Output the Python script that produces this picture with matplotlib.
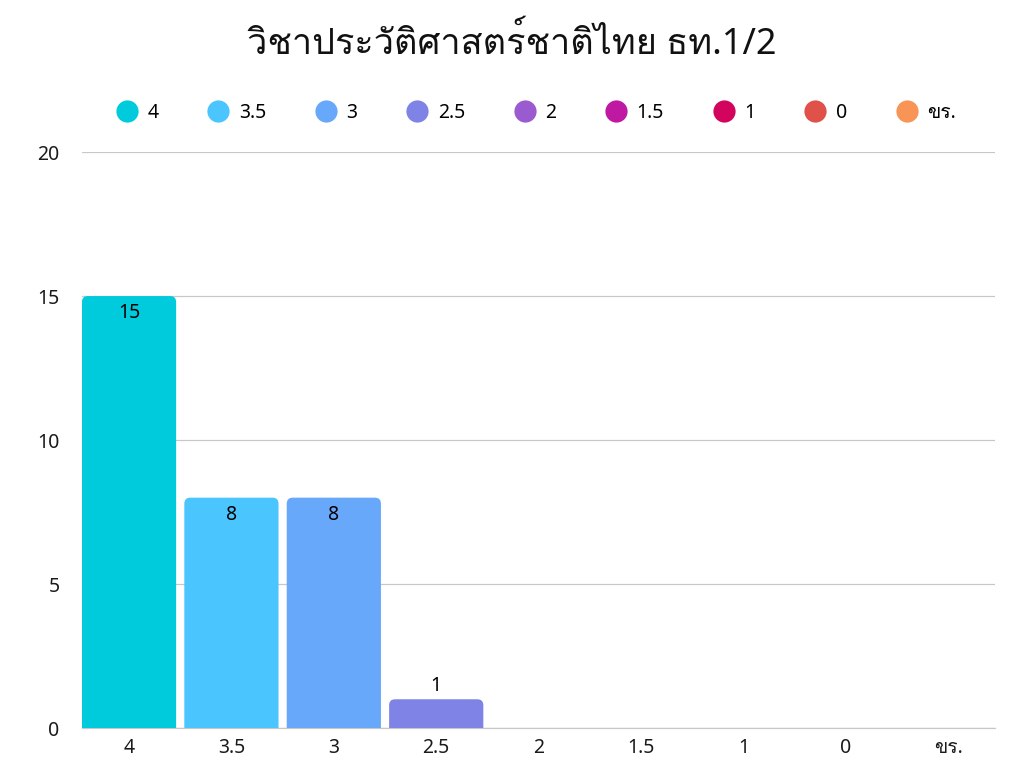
#!/usr/bin/env python3
"""Grade distribution bar chart for the Thai history class."""
from __future__ import annotations

import matplotlib
matplotlib.use("Agg")
import matplotlib.pyplot as plt
from matplotlib import font_manager
from matplotlib.ft2font import FT2Font
from matplotlib.lines import Line2D
from matplotlib.patches import FancyBboxPatch

TITLE = "วิชาประวัติศาสตร์ชาติไทย ธท.1/2"
grades = ["4", "3.5", "3", "2.5", "2", "1.5", "1", "0", "ขร."]
counts = [15, 8, 8, 1, 0, 0, 0, 0, 0]
colors = ["#00CBDD", "#4AC5FE", "#67A8FA", "#7F83E6", "#9B5BD0",
          "#BF18A2", "#D3045E", "#E05149", "#F79456"]
y_ticks = [0, 5, 10, 15, 20]


def thai_font() -> str:
    # pick any installed family that actually has Thai glyphs
    for entry in font_manager.fontManager.ttflist:
        try:
            charmap = FT2Font(entry.fname).get_charmap()
        except Exception:
            continue
        if 0x0E27 in charmap and 0x0E34 in charmap:
            return entry.name
    return "DejaVu Sans"


plt.rcParams["font.family"] = ["Noto Sans", thai_font(), "DejaVu Sans"]

fig = plt.figure(figsize=(10.24, 7.68), dpi=100)
ax_pos = [0.080, 0.052, 0.892, 0.750]
ax = fig.add_axes(ax_pos)

x = list(range(len(grades)))
width = 0.92
ax.set_xlim(-width / 2, len(grades) - 1 + width / 2)
ax.set_ylim(0, 20)

# px per data unit, used to keep the corner radius round
px_x = ax_pos[2] * 1024 / (len(grades) - 1 + width)
px_y = ax_pos[3] * 768 / 20
radius = 6 / px_x
aspect = px_x / px_y
r_y = radius * aspect

for xi, value, color in zip(x, counts, colors):
    if value <= 0:
        continue
    left = xi - width / 2
    # start the box below zero so the axes clip away the lower corners
    bottom = -3 * r_y
    ax.add_patch(FancyBboxPatch(
        (left + radius, bottom + r_y), width - 2 * radius, value - bottom - 2 * r_y,
        boxstyle=f"round,pad={radius}", mutation_aspect=aspect,
        facecolor=color, edgecolor="none", zorder=3))
    if value >= 3:
        ax.annotate(str(value), (xi, value), xytext=(0, -5), textcoords="offset points",
                    ha="center", va="top", fontsize=14, color="black", zorder=4)
    else:
        ax.annotate(str(value), (xi, value), xytext=(0, 2), textcoords="offset points",
                    ha="center", va="bottom", fontsize=14, color="black", zorder=4)

ax.set_yticks(y_ticks)
ax.set_yticklabels([str(t) for t in y_ticks], fontsize=14)
ax.set_xticks(x)
ax.set_xticklabels(grades, fontsize=14)
ax.tick_params(axis="both", length=0, colors="#1a1a1a")
ax.tick_params(axis="y", pad=16)
ax.tick_params(axis="x", pad=7)
ax.grid(axis="y", color="#C8C8C8", linewidth=0.9, zorder=0)
ax.axhline(0, color="#C8C8C8", linewidth=0.9, zorder=0, clip_on=False)
for spine in ax.spines.values():
    spine.set_visible(False)

fig.text(0.5, 0.943, TITLE, ha="center", va="center", fontsize=26, color="#111111")

handles = [Line2D([], [], linestyle="none", marker="o", markersize=16,
                  markerfacecolor=c, markeredgecolor="none") for c in colors]
fig.legend(handles, grades, loc="center", bbox_to_anchor=(0.524, 0.853), ncol=len(grades),
           frameon=False, fontsize=14, handletextpad=0.55, columnspacing=2.58,
           handlelength=1.0)

fig.savefig("out.png", dpi=100)
